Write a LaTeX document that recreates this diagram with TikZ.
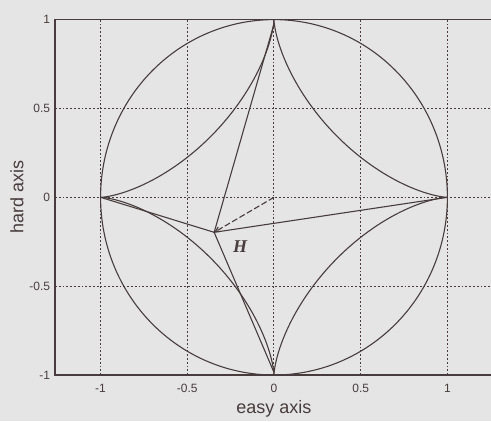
\documentclass[tikz,border=0pt]{standalone}
\usepackage{fontspec}
\setmainfont{Liberation Sans}
\newfontfamily\hfont{Liberation Serif}
\usetikzlibrary{arrows.meta}
\definecolor{ink}{RGB}{72,60,62}
\definecolor{paper}{RGB}{229,229,229}
\begin{document}
\begin{tikzpicture}[x=173.4pt,y=177.7pt,
  curve/.style={draw=ink,line width=1.1pt},
  gridline/.style={draw=ink,line width=1pt,dash pattern=on 1.8pt off 2pt},
  ticklab/.style={font=\fontsize{12}{13}\selectfont,text=ink,inner sep=0pt},
  axlab/.style={font=\fontsize{18}{19}\selectfont,text=ink,inner sep=0pt}]
\fill[paper] (-1.580,-1.2589) rectangle (1.2514,1.1103);
\useasboundingbox (-1.580,-1.2589) rectangle (1.2514,1.1103);
\begin{scope}
\clip (-1.263,-1) rectangle (1.2514,1);
% grid
\foreach \gx in {-1,-0.5,0,0.5,1} \draw[gridline] (\gx,-1) -- (\gx,1);
\foreach \gy in {-0.5,0,0.5} \draw[gridline] (-1.263,\gy) -- (1.2514,\gy);
% circle
\draw[curve,domain=0:360,samples=181,smooth] plot ({cos(\x)},{sin(\x)});
% astroid
\draw[curve,domain=0:360,samples=361] plot ({cos(\x)^3},{sin(\x)^3});
\end{scope}
% frame
\draw[ink,line width=1.2pt] (1.2514,1) -- (-1.263,1) -- (-1.263,-1) -- (1.2514,-1);
% points
\coordinate (O) at (0,0);
\coordinate (H) at (-0.345,-0.197);
\coordinate (E) at (1,0);
\coordinate (W) at (-1,0);
\coordinate (N) at (0,0.975);
\coordinate (S) at (0,-0.985);
\draw[curve] (W) -- (H) -- (N);
\draw[curve] (E) -- (H) -- (S);
\draw[curve,dash pattern=on 6pt off 2.5pt,-{Straight Barb[length=5pt,width=5pt]}] (O) -- (H);
\node[font=\hfont\bfseries\itshape\fontsize{18}{19}\selectfont,text=ink] (hl) at (-0.196,-0.28) {H};
% tick labels
\foreach \v/\t in {-1/-1,-0.5/-0.5,0/0,0.5/0.5,1/1}
  \node[ticklab] (xt\t) at (\v,-1.073) {\t};
\foreach \v/\t in {1/1,0.5/0.5,0/0,-0.5/-0.5,-1/-1}
  \node[ticklab,anchor=east] (yt\t) at (-1.29,\v) {\t};
\node[axlab] (xl) at (0,-1.19) {easy axis};
\node[axlab,rotate=90] (yl) at (-1.482,0) {hard axis};
\end{tikzpicture}
\end{document}
